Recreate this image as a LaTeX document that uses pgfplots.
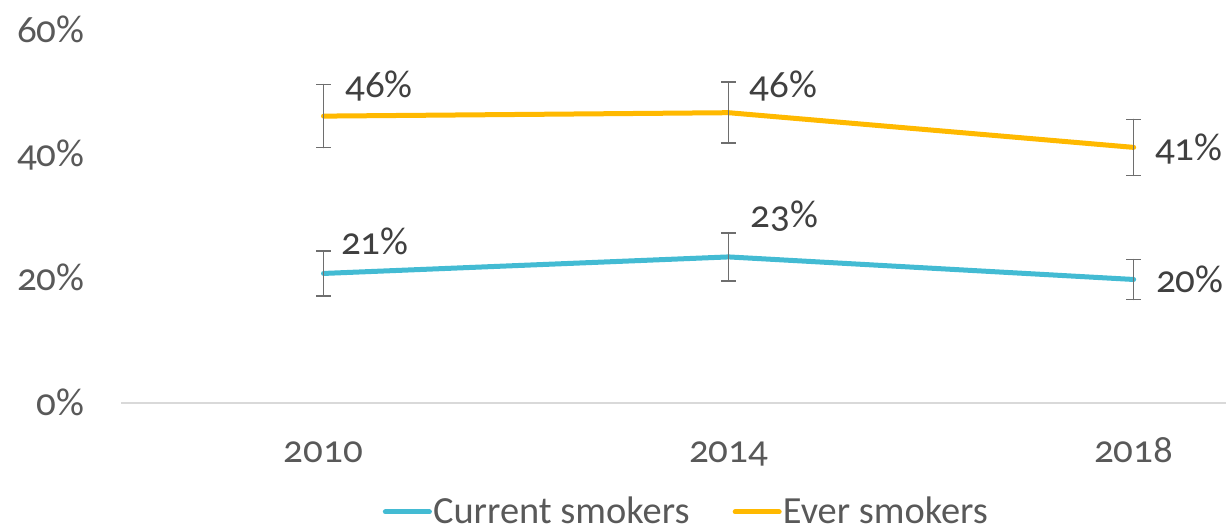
\documentclass[border=0pt]{standalone}
\usepackage{fontspec}
\setmainfont{Carlito}[Numbers=OldStyle]
\usepackage{pgfplots}
\pgfplotsset{compat=1.18}
\definecolor{curc}{HTML}{43BBD3}
\definecolor{everc}{HTML}{FFB900}
\definecolor{tickgrey}{HTML}{595959}
\definecolor{labgrey}{HTML}{404040}
\definecolor{errgrey}{HTML}{6E6E6E}
\definecolor{axgrey}{HTML}{D9D9D9}
\pgfplotstableread{
x y e
0 20.84 3.6
1 23.50 3.85
2 19.87 3.2
}\current
\pgfplotstableread{
x y e
0 46.15 5.06
1 46.70 4.9
2 41.12 4.5
}\ever
\begin{document}
\begin{tikzpicture}
\useasboundingbox (0,0) rectangle (613pt,265.5pt);
\begin{axis}[
  at={(60.5pt,64pt)}, anchor=south west,
  scale only axis, width=552.5pt, height=186.5pt,
  xmin=-0.5, xmax=2.228, ymin=0, ymax=60,
  clip=false,
  axis x line*=bottom, axis y line*=left,
  x axis line style={draw=axgrey, line width=0.8pt, -},
  y axis line style={draw=none},
  major tick length=0pt, tick style={draw=none},
  xtick={0,1,2}, xticklabels={2010,2014,2018},
  ytick={0,20,40,60},
  yticklabel={\pgfmathprintnumber{\tick}\%},
  /pgf/number format/assume math mode=true,
  every tick label/.append style={font=\fontsize{19.5}{23}\selectfont, text=tickgrey},
  yticklabel style={anchor=base east, inner sep=0pt, xshift=-18pt, yshift=-6pt},
  xticklabel style={anchor=base, inner sep=0pt, yshift=-29.7pt},
  legend style={at={(0.237,-0.292)}, anchor=west, draw=none, fill=none,
    inner sep=0pt, outer sep=0pt, legend columns=-1,
    font=\fontsize{19.2}{22}\selectfont, text=tickgrey,
    nodes={inner sep=0.6pt},
    /tikz/every even column/.append style={column sep=21pt}},
  legend image code/.code={\draw[#1, line width=2.5pt, line cap=round] (0pt,0pt) -- (22pt,0pt);},
]
\addplot[color=curc, line width=2.5pt, line cap=round, line join=round,
  error bars/.cd, y dir=both, y explicit,
  error bar style={color=errgrey, line width=0.75pt},
  error mark options={rotate=90, mark size=3.6pt, color=errgrey, line width=0.75pt}]
  table[x=x, y=y, y error=e] {\current};
\addlegendentry{Current smokers}
\addplot[color=everc, line width=2.5pt, line cap=round, line join=round,
  error bars/.cd, y dir=both, y explicit,
  error bar style={color=errgrey, line width=0.75pt},
  error mark options={rotate=90, mark size=3.6pt, color=errgrey, line width=0.75pt}]
  table[x=x, y=y, y error=e] {\ever};
\addlegendentry{Ever smokers}
\begin{scope}[every node/.style={anchor=base west, inner sep=0pt, text=labgrey, font=\fontsize{19.5}{23}\selectfont}]
\node[xshift=10.75pt, yshift=9.35pt] at (axis cs:0,46.15) {46\%};
\node[xshift=10.5pt, yshift=7.65pt] at (axis cs:1,46.70) {46\%};
\node[xshift=10.5pt, yshift=-6.5pt] at (axis cs:2,41.12) {41\%};
\node[xshift=8.6pt, yshift=9.65pt] at (axis cs:0,20.84) {21\%};
\node[xshift=10.85pt, yshift=14.5pt] at (axis cs:1,23.50) {23\%};
\node[xshift=11pt, yshift=-6.5pt] at (axis cs:2,19.87) {20\%};
\end{scope}
\end{axis}
\end{tikzpicture}
\end{document}
